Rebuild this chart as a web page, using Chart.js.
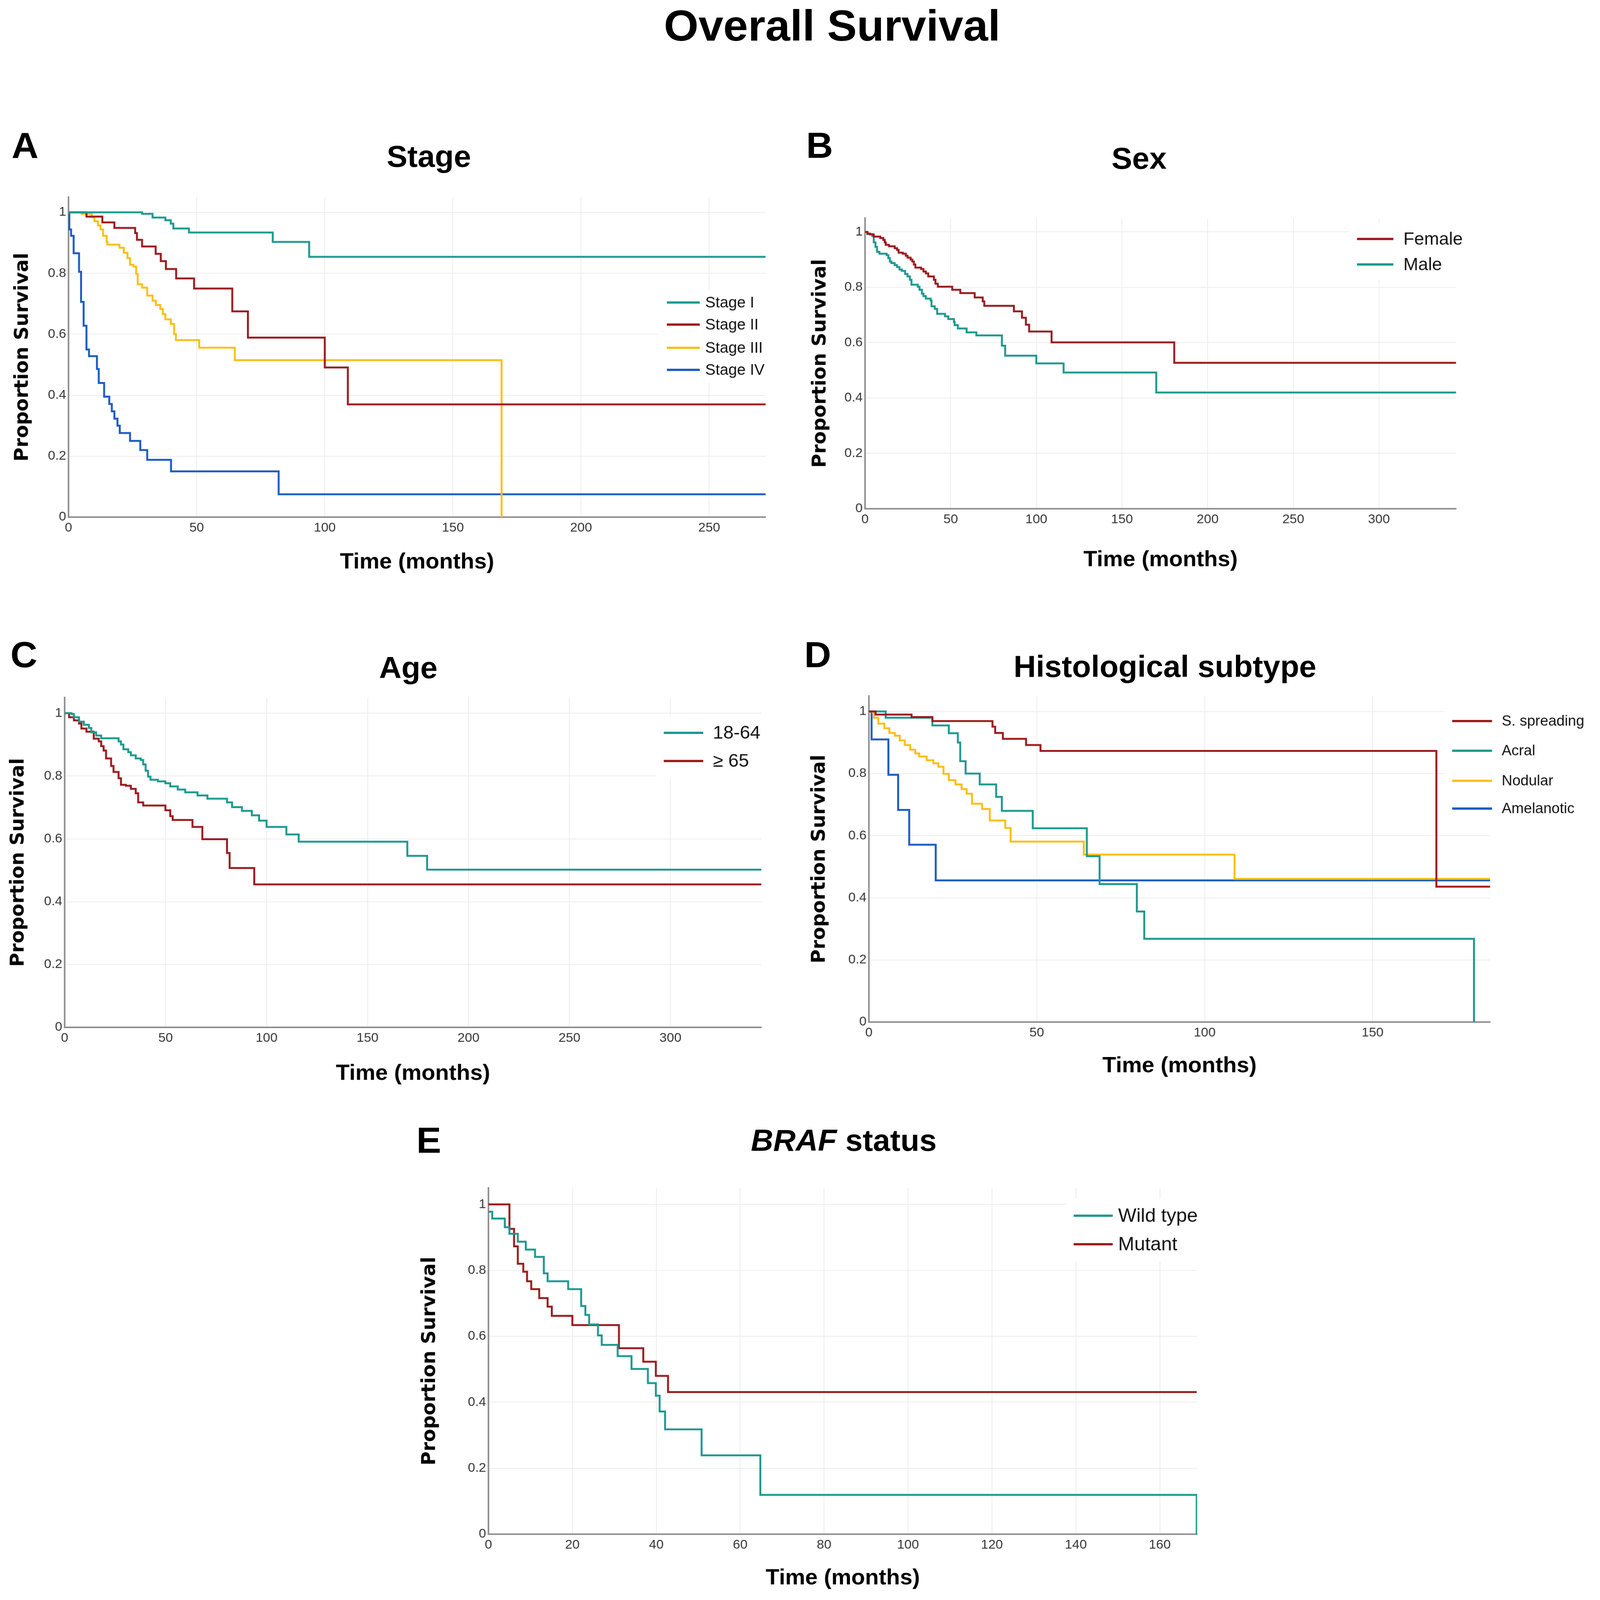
<!DOCTYPE html>
<html>
<head>
<meta charset="utf-8">
<script src="https://cdn.jsdelivr.net/npm/chart.js@4.4.1/dist/chart.umd.min.js"></script>
<style>
  html, body { margin: 0; padding: 0; overflow: hidden; background: #fff; }
  #page { position: relative; width: 4134px; height: 4205px; background: #fff; overflow: hidden; transform-origin: 0 0; }
  .txt { position: absolute; font-family: 'Liberation Sans', Arial, sans-serif; font-weight: bold; color: #000; line-height: 1; white-space: nowrap; }
  .center { transform: translate(-50%, -50%); }
  .letter { font-size: 96px; transform: translateY(-50%); }
  .ptitle { font-size: 80px; }
</style>
</head>
<body>
<div id="page">

<div class="txt center" style="left:2150px; top:67px; font-size:115px;">Overall Survival</div>

<div class="txt letter" style="left:30px; top:382px;">A</div>
<div class="txt center ptitle" style="left:1108px; top:411px;">Stage</div>
<div class="txt letter" style="left:2083px; top:382px;">B</div>
<div class="txt center ptitle" style="left:2943px; top:417px;">Sex</div>
<div class="txt letter" style="left:27px; top:1720px;">C</div>
<div class="txt center ptitle" style="left:1055px; top:1755px;">Age</div>
<div class="txt letter" style="left:2078px; top:1720px;">D</div>
<div class="txt center ptitle" style="left:3010px; top:1752px;">Histological subtype</div>
<div class="txt letter" style="left:1076px; top:2997px;">E</div>
<div class="txt center ptitle" style="left:2180px; top:2997px;"><i>BRAF</i> status</div>

</div>

<script>
// ---- data: event times (months) and survival after each event ----

const yTicks = [0, 0.2, 0.4, 0.6, 0.8, 1]

// A - Stage
const stageLabels = ['Stage I', 'Stage II', 'Stage III', 'Stage IV']
const stageTicks = [0, 50, 100, 150, 200, 250]
const stage1Time = [0, 28.7, 32.8, 37.8, 39.9, 40.9, 47, 79.7, 93.9, 272]
const stage1Surv = [1, 0.995, 0.983, 0.974, 0.963, 0.947, 0.934, 0.903, 0.854, 0.854]
const stage2Time = [0, 7, 13.2, 17.9, 26, 26.7, 28.7, 34, 36, 38, 42, 49, 63.9, 70, 100, 109, 272]
const stage2Surv = [1, 0.986, 0.967, 0.949, 0.932, 0.91, 0.888, 0.864, 0.84, 0.814, 0.783, 0.75, 0.675, 0.589, 0.491, 0.37, 0.37]
const stage3Time = [0, 5.1, 9.1, 10.1, 11.5, 12.5, 13.5, 14.9, 15.2, 19.9, 21.6, 23, 24, 25.3, 26.4, 27, 28.7, 30.7, 32.8, 34.1, 35.8, 36.8, 37.8, 39.9, 41.2, 41.9, 51, 64.9, 169]
const stage3Surv = [1, 0.995, 0.984, 0.971, 0.957, 0.944, 0.923, 0.903, 0.894, 0.884, 0.867, 0.85, 0.828, 0.822, 0.798, 0.764, 0.753, 0.727, 0.71, 0.696, 0.683, 0.666, 0.649, 0.634, 0.601, 0.581, 0.556, 0.515, 0]
const stage4Time = [0, 0.3, 1, 2, 4.1, 4.9, 5.9, 7, 8, 11.1, 11.8, 13.9, 15.9, 16.9, 17.9, 19.1, 20, 24, 28, 30.7, 40, 82, 272]
const stage4Surv = [1, 0.944, 0.923, 0.866, 0.805, 0.706, 0.628, 0.55, 0.528, 0.486, 0.44, 0.395, 0.371, 0.347, 0.323, 0.3, 0.276, 0.25, 0.22, 0.188, 0.15, 0.075, 0.075]

// B - Sex
const sexLabels = ['Female', 'Male']
const sexTicks = [0, 50, 100, 150, 200, 250, 300]
const femaleTime = [0, 1.4, 2.8, 5.1, 8.9, 10.7, 11.5, 12.1, 14, 17.3, 18.7, 19.6, 22, 23.8, 24.8, 26.6, 27.6, 28.5, 29.4, 32.7, 34.1, 35.5, 36.9, 40.2, 41.1, 42.5, 50.9, 55.6, 64, 68.7, 69.6, 86.9, 91.6, 93.9, 95.8, 108.9, 180.5, 345]
const femaleSurv = [1, 0.994, 0.991, 0.983, 0.978, 0.971, 0.962, 0.953, 0.948, 0.941, 0.935, 0.925, 0.921, 0.914, 0.907, 0.9, 0.893, 0.882, 0.871, 0.866, 0.857, 0.85, 0.839, 0.827, 0.813, 0.802, 0.791, 0.779, 0.763, 0.749, 0.733, 0.713, 0.69, 0.665, 0.64, 0.601, 0.527, 0.527]
const maleTime = [0, 1.4, 4.2, 5.1, 6.1, 7, 8.4, 12.6, 13.6, 14.5, 15.4, 17.3, 18.7, 20.1, 21.5, 23.4, 24.8, 26.2, 27.1, 30.8, 31.8, 33.2, 34.1, 35.5, 38.3, 38.8, 40.7, 42.1, 46.7, 48.6, 51.9, 52.3, 54.2, 59.3, 65, 79.9, 81.8, 100, 115.9, 170, 345]
const maleSurv = [1, 0.992, 0.985, 0.962, 0.946, 0.928, 0.921, 0.916, 0.905, 0.893, 0.887, 0.88, 0.873, 0.864, 0.859, 0.848, 0.839, 0.827, 0.809, 0.802, 0.791, 0.777, 0.768, 0.759, 0.752, 0.731, 0.722, 0.704, 0.695, 0.685, 0.674, 0.663, 0.651, 0.637, 0.626, 0.589, 0.553, 0.525, 0.492, 0.42, 0.42]

// C - Age
const ageLabels = ['18-64', '≥ 65']
const ageTicks = [0, 50, 100, 150, 200, 250, 300]
const youngTime = [0, 3.4, 4.6, 7.1, 9.5, 12, 13.2, 15.6, 18.1, 26.7, 27.9, 29.1, 31.5, 32.8, 35.2, 37.7, 38.9, 40.1, 41.3, 42.5, 46.2, 49.9, 52.3, 56, 59.7, 65.8, 70.7, 80.4, 82.9, 87.8, 92.7, 96.3, 100, 109.8, 115.9, 169.7, 179.5, 345]
const youngSurv = [1, 0.997, 0.987, 0.973, 0.963, 0.953, 0.939, 0.929, 0.92, 0.91, 0.9, 0.885, 0.876, 0.866, 0.856, 0.851, 0.837, 0.817, 0.798, 0.788, 0.783, 0.777, 0.767, 0.757, 0.748, 0.738, 0.728, 0.716, 0.701, 0.689, 0.675, 0.658, 0.638, 0.614, 0.591, 0.546, 0.502, 0.502]
const olderTime = [0, 2.2, 4.6, 7.1, 8.3, 10.8, 14.4, 16.9, 18.1, 19.3, 20.5, 23, 24.2, 26.7, 27.9, 30.3, 32.8, 35.2, 36.4, 38.9, 49.9, 52.3, 53.5, 63.3, 68.2, 80.4, 81.7, 93.9, 345]
const olderSurv = [1, 0.987, 0.977, 0.967, 0.951, 0.941, 0.919, 0.91, 0.895, 0.881, 0.856, 0.832, 0.813, 0.793, 0.772, 0.769, 0.759, 0.745, 0.716, 0.706, 0.691, 0.672, 0.66, 0.638, 0.599, 0.555, 0.507, 0.455, 0.455]

// D - Histological subtype
const histoLabels = ['S. spreading', 'Acral', 'Nodular', 'Amelanotic']
const histoTicks = [0, 50, 100, 150]
const spreadTime = [0, 2, 12.7, 18.9, 36.8, 37.6, 39.9, 46.8, 51.1, 169, 185]
const spreadSurv = [1, 0.99, 0.982, 0.969, 0.951, 0.931, 0.912, 0.892, 0.873, 0.436, 0.436]
const acralTime = [0, 5, 18.9, 23.8, 26.5, 27.2, 28.8, 33, 37.9, 39.6, 48.8, 64.9, 68.7, 79.8, 82, 180.2]
const acralSurv = [1, 0.98, 0.955, 0.93, 0.9, 0.84, 0.8, 0.765, 0.725, 0.68, 0.624, 0.534, 0.444, 0.356, 0.268, 0]
const nodularTime = [0, 1.2, 1.5, 2.8, 4.6, 6.1, 7.7, 9.2, 10.7, 12.3, 13.8, 15, 17.2, 19.2, 20.7, 22.2, 23.8, 25.8, 27.6, 29.1, 30.7, 33.7, 36, 40.6, 42.2, 64, 108.9, 185]
const nodularSurv = [1, 0.995, 0.98, 0.961, 0.946, 0.931, 0.922, 0.907, 0.892, 0.877, 0.865, 0.855, 0.843, 0.833, 0.822, 0.799, 0.779, 0.765, 0.75, 0.735, 0.703, 0.686, 0.649, 0.625, 0.581, 0.539, 0.461, 0.461]
const amelTime = [0, 0.8, 5.8, 8.7, 12, 19.9, 185]
const amelSurv = [1, 0.91, 0.796, 0.683, 0.571, 0.456, 0.456]

// E - BRAF status
const brafLabels = ['Wild type', 'Mutant']
const brafTicks = [0, 20, 40, 60, 80, 100, 120, 140, 160]
const wildTime = [0, 0.9, 3.9, 5, 7, 8.9, 11.1, 13.2, 14.1, 19, 22.1, 23.1, 24, 26.1, 27, 30.8, 34.1, 38, 39.9, 40.8, 42.1, 50.8, 64.8, 168.8]
const wildSurv = [0.978, 0.957, 0.931, 0.911, 0.887, 0.863, 0.841, 0.791, 0.767, 0.743, 0.692, 0.665, 0.636, 0.603, 0.574, 0.54, 0.501, 0.458, 0.42, 0.372, 0.318, 0.239, 0.119, 0]
const mutantTime = [0, 5, 6.1, 7, 8.3, 9.2, 10.2, 12.1, 14.1, 15.1, 20, 31.1, 36.9, 39.9, 42.8, 168.8]
const mutantSurv = [1, 0.926, 0.873, 0.82, 0.796, 0.767, 0.743, 0.716, 0.69, 0.662, 0.634, 0.564, 0.523, 0.48, 0.431, 0.431]


// ---- styling ----
const teal = '#1b998f'
const red = '#9a1b1e'
const yellow = '#fbbf14'
const blue = '#1a5bc4'

const tickFont = { family: "'Liberation Sans', Arial, sans-serif", size: 34 }

// draws the legend inside the plot, like the original figure
const kmLegend = {
     id: 'kmLegend',
     afterDraw(chart, args, opts) {
          const ctx = chart.ctx
          const sets = chart.data.datasets
          ctx.save()
          ctx.font = `${opts.size}px 'Liberation Sans', Arial, sans-serif`
          let textEnd = 0
          sets.forEach(ds => { textEnd = Math.max(textEnd, ctx.measureText(ds.label).width) })
          const gap = opts.rows.length > 1 ? opts.rows[1] - opts.rows[0] : opts.size
          ctx.fillStyle = '#fff'
          ctx.fillRect(opts.lineX[0] - 20, opts.rows[0] - gap * 0.6,
               opts.textX + textEnd + 20 - (opts.lineX[0] - 20), opts.rows[opts.rows.length - 1] - opts.rows[0] + gap * 1.2)
          ctx.textBaseline = 'middle'
          ctx.textAlign = 'left'
          sets.forEach((ds, i) => {
               const y = opts.rows[i]
               ctx.strokeStyle = ds.borderColor
               ctx.lineWidth = 6
               ctx.beginPath()
               ctx.moveTo(opts.lineX[0], y)
               ctx.lineTo(opts.lineX[1], y)
               ctx.stroke()
               ctx.fillStyle = '#111'
               ctx.fillText(ds.label, opts.textX, y + 2)
          })
          ctx.restore()
     }
}

const page = document.getElementById('page')

function makePanel(p) {
     // canvas placed so the chart area lands where it is in the figure
     const cx = p.yTitleX - 30
     const cy = p.top - 40
     const cBottom = p.xTitleY + 35
     const w = p.canvasRight - cx
     const h = cBottom - cy

     const canvas = document.createElement('canvas')
     canvas.width = w
     canvas.height = h
     canvas.style.cssText = `position:absolute;left:${cx}px;top:${cy}px;width:${w}px;height:${h}px`
     page.appendChild(canvas)

     const lg = p.legend
     new Chart(canvas, {
          type: 'line',
          data: {
               datasets: p.series.map(s => ({
                    label: s.label,
                    data: s.t.map((x, i) => ({ x: x, y: s.s[i] })),
                    borderColor: s.color,
                    backgroundColor: s.color,
                    borderWidth: 5,
                    pointRadius: 0,
                    stepped: true,
                    fill: false,
               }))
          },
          options: {
               responsive: false,
               animation: false,
               devicePixelRatio: 1,
               layout: {
                    padding: { left: 0, top: p.top - cy, right: p.canvasRight - p.right, bottom: 0 }
               },
               scales: {
                    x: {
                         type: 'linear',
                         min: 0,
                         max: p.tMax,
                         afterBuildTicks: s => { s.ticks = p.xTicks.map(v => ({ value: v })) },
                         afterFit: s => { s.height = cBottom - p.bottom },
                         ticks: { font: tickFont, color: '#333', padding: 8, maxRotation: 0, autoSkip: false },
                         grid: { color: '#ececec', lineWidth: 2, drawTicks: false },
                         border: { color: '#8c8c8c', width: 4 },
                         title: {
                              display: true,
                              text: 'Time (months)',
                              color: '#000',
                              padding: 0,
                              font: { family: "'Liberation Sans', Arial, sans-serif", size: 58, weight: 'bold' }
                         }
                    },
                    y: {
                         min: 0,
                         max: 1.05,
                         afterBuildTicks: s => { s.ticks = yTicks.map(v => ({ value: v })) },
                         afterFit: s => { s.width = p.left - cx },
                         ticks: { font: tickFont, color: '#333', padding: 6, callback: v => String(v) },
                         grid: { color: '#ececec', lineWidth: 2, drawTicks: false },
                         border: { color: '#8c8c8c', width: 4 },
                         title: {
                              display: true,
                              text: 'Proportion Survival',
                              color: '#000',
                              padding: 0,
                              font: { family: "'DejaVu Sans', sans-serif", size: 50, weight: 'bold' }
                         }
                    }
               },
               plugins: {
                    legend: { display: false },
                    tooltip: { enabled: false },
                    kmLegend: {
                         rows: lg.rows.map(r => r - cy),
                         lineX: lg.lineX.map(x => x - cx),
                         textX: lg.textX - cx,
                         size: lg.size
                    }
               }
          },
          plugins: [kmLegend]
     })
}

const panels = [
     {
          left: 177, right: 1978, top: 518, bottom: 1359, tMax: 272, xTicks: stageTicks,
          yTitleX: 59, xTitleY: 1478, canvasRight: 2040,
          legend: { rows: [795, 853, 914, 972], lineX: [1723, 1808], textX: 1822, size: 40 },
          series: [
               { label: stageLabels[0], t: stage1Time, s: stage1Surv, color: teal },
               { label: stageLabels[1], t: stage2Time, s: stage2Surv, color: red },
               { label: stageLabels[2], t: stage3Time, s: stage3Surv, color: yellow },
               { label: stageLabels[3], t: stage4Time, s: stage4Surv, color: blue },
          ]
     },
     {
          left: 2235, right: 3762, top: 573, bottom: 1337, tMax: 345, xTicks: sexTicks,
          yTitleX: 2120, xTitleY: 1472, canvasRight: 3810,
          legend: { rows: [628, 695], lineX: [3506, 3600], textX: 3626, size: 46 },
          series: [
               { label: sexLabels[0], t: femaleTime, s: femaleSurv, color: red },
               { label: sexLabels[1], t: maleTime, s: maleSurv, color: teal },
          ]
     },
     {
          left: 167, right: 1967, top: 1833, bottom: 2700, tMax: 345, xTicks: ageTicks,
          yTitleX: 48, xTitleY: 2822, canvasRight: 2010,
          legend: { rows: [1926, 2000], lineX: [1715, 1817], textX: 1842, size: 48 },
          series: [
               { label: ageLabels[0], t: youngTime, s: youngSurv, color: teal },
               { label: ageLabels[1], t: olderTime, s: olderSurv, color: red },
          ]
     },
     {
          left: 2245, right: 3850, top: 1829, bottom: 2686, tMax: 185, xTicks: histoTicks,
          yTitleX: 2118, xTitleY: 2802, canvasRight: 4134,
          legend: { rows: [1895, 1973, 2052, 2125], lineX: [3752, 3855], textX: 3880, size: 38 },
          series: [
               { label: histoLabels[0], t: spreadTime, s: spreadSurv, color: red },
               { label: histoLabels[1], t: acralTime, s: acralSurv, color: teal },
               { label: histoLabels[2], t: nodularTime, s: nodularSurv, color: yellow },
               { label: histoLabels[3], t: amelTime, s: amelSurv, color: blue },
          ]
     },
     {
          left: 1262, right: 3093, top: 3122, bottom: 4032, tMax: 168.9, xTicks: brafTicks,
          yTitleX: 1111, xTitleY: 4148, canvasRight: 3130,
          legend: { rows: [3195, 3270], lineX: [2774, 2875], textX: 2889, size: 50 },
          series: [
               { label: brafLabels[0], t: wildTime, s: wildSurv, color: teal },
               { label: brafLabels[1], t: mutantTime, s: mutantSurv, color: red },
          ]
     },
]

panels.forEach(makePanel)

// if the visible viewport is smaller than the figure, shrink the whole page to fit it
const sx = window.innerWidth > 1000 ? Math.min(1, window.innerWidth / 4134) : 1
const sy = window.innerHeight > 1000 ? Math.min(1, window.innerHeight / 4205) : 1
if (sx < 1 || sy < 1) page.style.transform = `scale(${sx}, ${sy})`
</script>
</body>
</html>
